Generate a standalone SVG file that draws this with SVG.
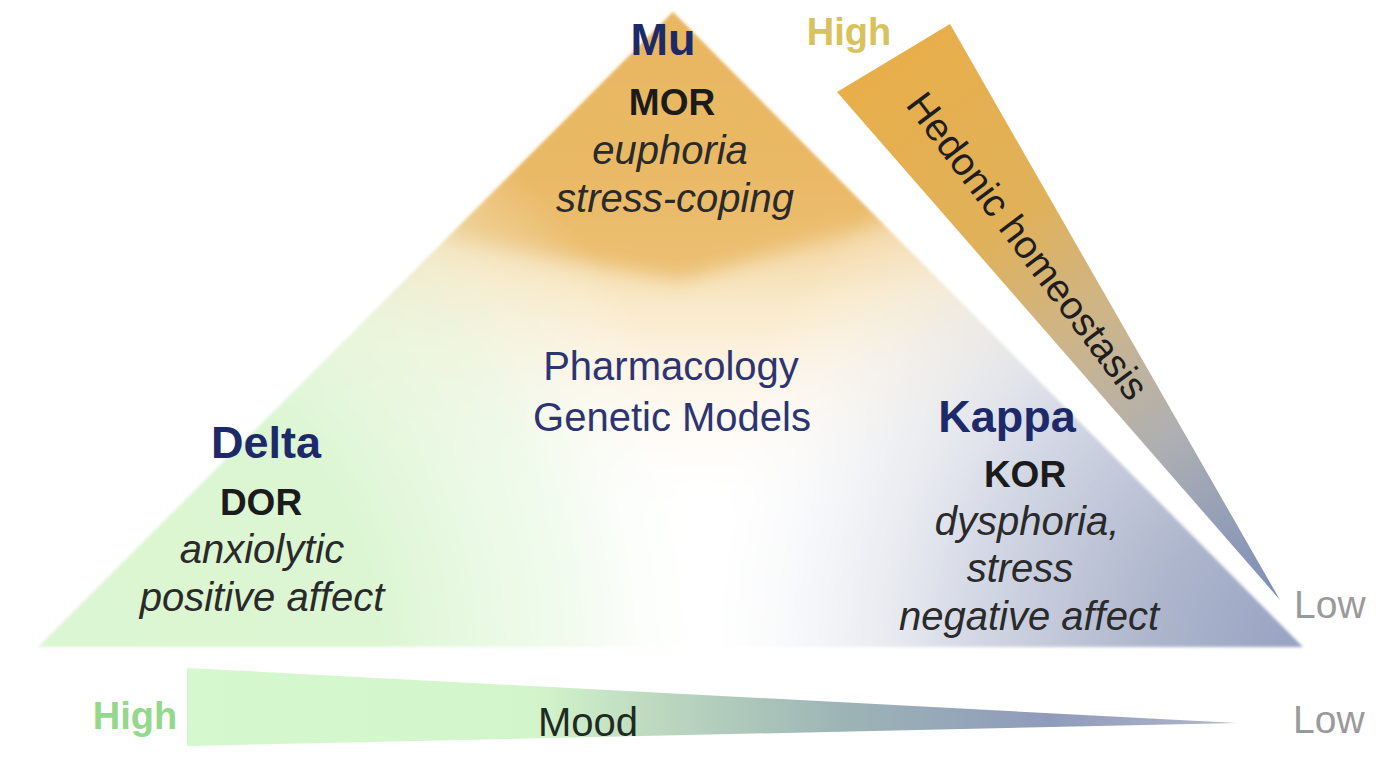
<svg xmlns="http://www.w3.org/2000/svg" width="1382" height="772" viewBox="0 0 1382 772">
  <defs>
    <style>
      text { font-family: "Liberation Sans", Arial, sans-serif; text-anchor: middle; }
      .head { font-weight: bold; font-size: 45px; fill: #1c2a6a; }
      .acr { font-weight: bold; font-size: 37px; fill: #1b1b1b; }
      .eff { font-style: italic; font-size: 40px; fill: #2a2a2a; }
      .method { font-size: 40px; fill: #2d3471; }
      .level { font-weight: bold; font-size: 38px; }
      .low { font-size: 39px; fill: #9a9a9a; text-anchor: start; }
      .axis { font-size: 40px; fill: #1f2a22; }
    </style>
    <clipPath id="triClip">
      <polygon points="673,12 38,647 1303,647"/>
    </clipPath>
    <linearGradient id="orangeFade" x1="0" y1="12" x2="0" y2="520" gradientUnits="userSpaceOnUse">
      <stop offset="0" stop-color="#e9b660"/>
      <stop offset="0.3" stop-color="#eec17a"/>
      <stop offset="0.55" stop-color="#f8e6c2"/>
      <stop offset="0.8" stop-color="#fdf6ea" stop-opacity="0.6"/>
      <stop offset="1" stop-color="#ffffff" stop-opacity="0"/>
    </linearGradient>
    <radialGradient id="greenGlow" cx="90" cy="647" r="640" gradientUnits="userSpaceOnUse">
      <stop offset="0" stop-color="#dbf6d2"/>
      <stop offset="0.45" stop-color="#dcf6d3"/>
      <stop offset="0.75" stop-color="#e8f8e2" stop-opacity="0.6"/>
      <stop offset="1" stop-color="#ffffff" stop-opacity="0"/>
    </radialGradient>
    <radialGradient id="blueGlow" cx="1303" cy="647" r="620" gradientUnits="userSpaceOnUse">
      <stop offset="0" stop-color="#97a2c1"/>
      <stop offset="0.25" stop-color="#aeb6cd"/>
      <stop offset="0.55" stop-color="#d6dae6"/>
      <stop offset="0.8" stop-color="#eceef3" stop-opacity="0.5"/>
      <stop offset="1" stop-color="#ffffff" stop-opacity="0"/>
    </radialGradient>
    <linearGradient id="hedonicGrad" x1="893" y1="58" x2="1280" y2="600" gradientUnits="userSpaceOnUse">
      <stop offset="0" stop-color="#e8ae4b"/>
      <stop offset="0.3" stop-color="#e0b159"/>
      <stop offset="0.5" stop-color="#cdb58a"/>
      <stop offset="0.7" stop-color="#afb0b2"/>
      <stop offset="0.9" stop-color="#8c99b8"/>
      <stop offset="1" stop-color="#7d8db5"/>
    </linearGradient>
    <linearGradient id="moodGrad" x1="187" y1="0" x2="1237" y2="0" gradientUnits="userSpaceOnUse">
      <stop offset="0" stop-color="#d6f8ce"/>
      <stop offset="0.33" stop-color="#d3f5cb"/>
      <stop offset="0.45" stop-color="#bcd8bf"/>
      <stop offset="0.62" stop-color="#9db5b6"/>
      <stop offset="0.82" stop-color="#8f9bbb"/>
      <stop offset="1" stop-color="#b3b8cb"/>
    </linearGradient>
    <filter id="soft" x="-20%" y="-20%" width="140%" height="140%">
      <feGaussianBlur stdDeviation="10"/>
    </filter>
    <filter id="edge" x="-5%" y="-5%" width="110%" height="110%">
      <feGaussianBlur stdDeviation="1.5"/>
    </filter>
  </defs>

  <rect width="1382" height="772" fill="#ffffff"/>

  <!-- receptor triangle: orange apex, green left, blue-grey right -->
  <g id="receptor-triangle" filter="url(#edge)">
    <g clip-path="url(#triClip)">
      <rect x="0" y="0" width="1382" height="660" fill="#ffffff"/>
      <rect x="0" y="0" width="1382" height="660" fill="url(#orangeFade)"/>
      <polygon points="673,-40 440,235 680,280 905,215" fill="#e9b660" fill-opacity="0.8" filter="url(#soft)"/>
      <rect x="0" y="0" width="1382" height="660" fill="url(#greenGlow)"/>
      <rect x="0" y="0" width="1382" height="660" fill="url(#blueGlow)"/>
    </g>
  </g>

  <!-- hedonic homeostasis scale -->
  <g id="hedonic-scale">
    <polygon points="837,92 950,24 1280,600" fill="url(#hedonicGrad)"/>
    <text x="1017" y="254" transform="rotate(53 1017 254)" style="font-size:39px; fill:#1e1e1e">Hedonic homeostasis</text>
    <text class="level" x="849" y="45" fill="#d8c25c">High</text>
    <text class="low" x="1294" y="618">Low</text>
  </g>

  <!-- mood scale -->
  <g id="mood-scale">
    <polygon points="187,668 1237,723 187,746" fill="url(#moodGrad)"/>
    <text class="level" x="135" y="729" fill="#94d88c">High</text>
    <text class="axis" x="588" y="736">Mood</text>
    <text class="low" x="1293" y="733">Low</text>
  </g>

  <!-- mu receptor -->
  <g id="mu">
    <text class="head" x="663" y="55">Mu</text>
    <text class="acr" x="672" y="115">MOR</text>
    <text class="eff" x="670" y="164">euphoria</text>
    <text class="eff" x="675" y="212">stress-coping</text>
  </g>

  <!-- methods -->
  <g id="methods">
    <text class="method" x="671" y="380">Pharmacology</text>
    <text class="method" x="672" y="431">Genetic Models</text>
  </g>

  <!-- delta receptor -->
  <g id="delta">
    <text class="head" x="266" y="458">Delta</text>
    <text class="acr" x="261" y="515">DOR</text>
    <text class="eff" x="262" y="563">anxiolytic</text>
    <text class="eff" x="262" y="611">positive affect</text>
  </g>

  <!-- kappa receptor -->
  <g id="kappa">
    <text class="head" x="1007" y="432">Kappa</text>
    <text class="acr" x="1025" y="487">KOR</text>
    <text class="eff" x="1027" y="535">dysphoria,</text>
    <text class="eff" x="1020" y="582">stress</text>
    <text class="eff" x="1029" y="630">negative affect</text>
  </g>
</svg>
